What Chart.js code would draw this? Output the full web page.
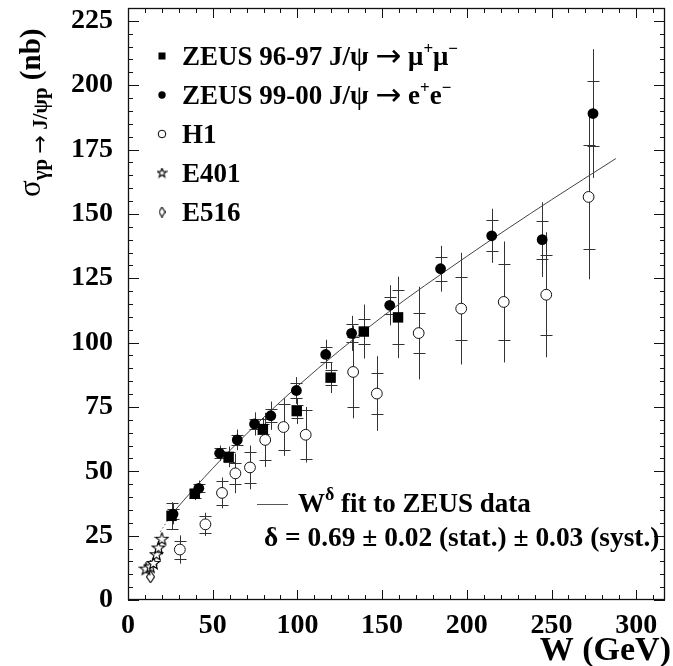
<!DOCTYPE html>
<html>
<head>
<meta charset="utf-8">
<script src="https://cdn.jsdelivr.net/npm/chart.js@4.4.1/dist/chart.umd.min.js"></script>
<style>
  html, body { margin: 0; padding: 0; background: #fff; }
  canvas { display: block; }
</style>
</head>
<body>
<canvas id="xsec" width="673" height="666"></canvas>
<script>
// ---- data (W in GeV, sigma in nb) ----
const zeus96W    = [25.7, 39.4, 59.4, 79.6, 99.6, 119.6, 139.2, 159.4];
const zeus96Sig  = [32.7, 41.3, 55.6, 66.4, 73.4, 86.4, 104.3, 109.8];
const zeus96Stat = [5.0, 1.5, 2.0, 2.0, 2.5, 3.0, 5.0, 10.5];
const zeus96Tot  = [5.3, 2.5, 4.0, 4.5, 5.0, 6.0, 10.5, 15.8];

const zeus99W    = [26.6, 41.8, 54.1, 64.5, 74.7, 84.3, 99.4, 116.7, 132.0, 154.5, 184.5, 214.7, 244.5, 274.5];
const zeus99Sig  = [33.4, 43.4, 57.0, 62.2, 68.4, 71.6, 81.4, 95.4, 103.6, 114.5, 128.7, 141.5, 140.0, 189.0];
const zeus99Stat = [2.0, 1.5, 2.0, 2.0, 2.0, 2.5, 3.0, 3.0, 3.5, 3.2, 4.7, 6.0, 7.4, 12.5];
const zeus99Tot  = [4.0, 3.0, 3.0, 4.0, 4.5, 5.5, 5.2, 5.7, 6.8, 7.8, 8.9, 10.5, 14.5, 25.0];

const h1W    = [30.6, 45.7, 55.5, 63.4, 72.0, 81.0, 91.8, 104.9, 132.9, 146.9, 171.6, 196.7, 221.8, 246.9, 271.9];
const h1Sig  = [19.6, 29.4, 41.6, 49.2, 51.5, 62.2, 67.2, 64.2, 88.6, 80.2, 103.7, 113.2, 115.8, 118.6, 156.6];
const h1Stat = [3.5, 3.2, 4.5, 4.2, 6.0, 8.0, 9.0, 9.5, 13.5, 7.9, 7.8, 12.2, 14.8, 15.5, 20.3];
const h1Tot  = [5.5, 4.5, 6.0, 7.7, 8.5, 10.5, 11.2, 10.8, 18.0, 14.5, 18.0, 21.7, 23.5, 24.3, 32.0];

const e401W   = [10.6, 13.2, 15.0, 16.8, 18.0, 20.0];
const e401Sig = [12.0, 12.8, 14.2, 17.6, 20.2, 23.6];

const e516W   = [13.3];
const e516Sig = [9.0];

// W^delta fit line, solid part and dotted extrapolation
const fitW      = [26, 40, 60, 100, 150, 200, 250, 288];
const fitSig    = [33.5, 44, 58, 83, 110, 133.5, 155.5, 171.5];
const fitExtW   = [19, 26];
const fitExtSig = [26.5, 33.5];

const xTicks = [0, 50, 100, 150, 200, 250, 300];
const yTicks = [0, 25, 50, 75, 100, 125, 150, 175, 200, 225];

const SERIF = '"Liberation Serif", "Times New Roman", serif';
const ARROW_FONT = '"DejaVu Sans", sans-serif';

function pts(xs, ys) {
    return xs.map((x, i) => ({ x: x, y: ys[i] }));
}

// open five-pointed star marker
function starImage(size, outer, inner) {
    const c = document.createElement('canvas');
    c.width = size; c.height = size;
    const g = c.getContext('2d');
    g.beginPath();
    for (let i = 0; i < 10; i++) {
        const r = i % 2 === 0 ? outer : inner;
        const a = -Math.PI / 2 + i * Math.PI / 5;
        const px = size / 2 + r * Math.cos(a);
        const py = size / 2 + r * Math.sin(a);
        if (i === 0) g.moveTo(px, py); else g.lineTo(px, py);
    }
    g.closePath();
    g.fillStyle = '#fff';
    g.fill();
    g.strokeStyle = '#000';
    g.lineWidth = 1.1;
    g.stroke();
    return c;
}

// open tall diamond marker
function diamondImage(w, h) {
    const c = document.createElement('canvas');
    c.width = w; c.height = h;
    const g = c.getContext('2d');
    g.beginPath();
    g.moveTo(w / 2, 0.5);
    g.lineTo(w - 0.5, h / 2);
    g.lineTo(w / 2, h - 0.5);
    g.lineTo(0.5, h / 2);
    g.closePath();
    g.fillStyle = '#fff';
    g.fill();
    g.strokeStyle = '#000';
    g.lineWidth = 1.1;
    g.stroke();
    return c;
}

const starPt = starImage(15, 6.5, 2.7);
const diamondPt = diamondImage(9, 13);
const starLeg = starImage(11, 4.8, 2.0);
const diamondLeg = diamondImage(7, 11);

// vertical error bars: line to the total error, small crossbars at the stat error
const errorBars = {
    id: 'errorBars',
    beforeDatasetsDraw(chart) {
        const ctx = chart.ctx;
        const xs = chart.scales.x, ys = chart.scales.y;
        const sets = [
            [zeus96W, zeus96Sig, zeus96Stat, zeus96Tot],
            [zeus99W, zeus99Sig, zeus99Stat, zeus99Tot],
            [h1W, h1Sig, h1Stat, h1Tot]
        ];
        ctx.save();
        ctx.strokeStyle = '#333';
        ctx.lineWidth = 1;
        sets.forEach(([w, s, st, tot]) => {
            w.forEach((wv, i) => {
                const px = Math.round(xs.getPixelForValue(wv)) + 0.5;
                const y1 = ys.getPixelForValue(s[i] - tot[i]);
                const y2 = ys.getPixelForValue(s[i] + tot[i]);
                ctx.beginPath();
                ctx.moveTo(px, y1);
                ctx.lineTo(px, y2);
                [s[i] - st[i], s[i] + st[i]].forEach(v => {
                    const py = Math.round(ys.getPixelForValue(v)) + 0.5;
                    ctx.moveTo(px - 6, py);
                    ctx.lineTo(px + 6, py);
                });
                ctx.stroke();
            });
        });
        ctx.restore();
    }
};

// draws a run of text pieces with their own font and vertical shift
function richText(ctx, x, y, parts) {
    parts.forEach(p => {
        ctx.font = p.font;
        ctx.fillText(p.t, x, y + (p.dy || 0));
        x += ctx.measureText(p.t).width;
    });
    return x;
}

// frame with inward ticks, legend, fit annotation and axis titles
const decorations = {
    id: 'decorations',
    afterDraw(chart) {
        const ctx = chart.ctx;
        const a = chart.chartArea;
        const xs = chart.scales.x, ys = chart.scales.y;
        ctx.save();

        // frame
        ctx.strokeStyle = '#111';
        ctx.lineWidth = 1.3;
        ctx.strokeRect(a.left + 0.5, a.top + 0.5, a.right - a.left - 1, a.bottom - a.top - 1);

        ctx.lineWidth = 1;
        ctx.beginPath();
        for (let v = 0; v <= xs.max; v += 10) {
            const px = Math.round(xs.getPixelForValue(v)) + 0.5;
            const len = v % 50 === 0 ? 10 : 5;
            ctx.moveTo(px, a.bottom); ctx.lineTo(px, a.bottom - len);
            ctx.moveTo(px, a.top); ctx.lineTo(px, a.top + len);
        }
        for (let v = 0; v <= ys.max; v += 5) {
            const py = Math.round(ys.getPixelForValue(v)) + 0.5;
            const len = v % 25 === 0 ? 11 : 5;
            ctx.moveTo(a.left, py); ctx.lineTo(a.left + len, py);
            ctx.moveTo(a.right, py); ctx.lineTo(a.right - len, py);
        }
        ctx.stroke();

        // legend
        const lx = 162, tx = 182;
        const rows = [65, 104, 143, 182, 221];
        const big = 'bold 27px ' + SERIF;
        const small = 'bold 17px ' + SERIF;
        const arrow = '31px ' + ARROW_FONT;
        ctx.fillStyle = '#000';
        ctx.textBaseline = 'alphabetic';
        ctx.textAlign = 'left';

        // markers
        let cy = rows[0] - 9;
        ctx.fillRect(lx - 3.5, cy - 3.5, 7, 7);
        cy = rows[1] - 9;
        ctx.beginPath(); ctx.arc(lx, cy, 3.7, 0, Math.PI * 2); ctx.fill();
        cy = rows[2] - 9;
        ctx.beginPath(); ctx.arc(lx, cy, 3.8, 0, Math.PI * 2);
        ctx.strokeStyle = '#000'; ctx.stroke();
        ctx.drawImage(starLeg, lx - 5.5, rows[3] - 9 - 5.5);
        ctx.drawImage(diamondLeg, lx - 3.5, rows[4] - 9 - 5.5);

        richText(ctx, tx, rows[0], [
            { t: 'ZEUS 96-97 J/\u03C8 ', font: big },
            { t: '\u2192', font: arrow, dy: 1 },
            { t: ' \u03BC', font: big },
            { t: '+', font: small, dy: -11 },
            { t: '\u03BC', font: big },
            { t: '\u2212', font: small, dy: -11 }
        ]);
        richText(ctx, tx, rows[1], [
            { t: 'ZEUS 99-00 J/\u03C8 ', font: big },
            { t: '\u2192', font: arrow, dy: 1 },
            { t: ' e', font: big },
            { t: '+', font: small, dy: -11 },
            { t: 'e', font: big },
            { t: '\u2212', font: small, dy: -11 }
        ]);
        ctx.font = big;
        ctx.fillText('H1', tx, rows[2]);
        ctx.fillText('E401', tx, rows[3]);
        ctx.fillText('E516', tx, rows[4]);

        // fit annotation
        ctx.strokeStyle = '#555';
        ctx.beginPath();
        ctx.moveTo(257, 504.5); ctx.lineTo(288, 504.5);
        ctx.stroke();
        richText(ctx, 298, 512, [
            { t: 'W', font: big },
            { t: '\u03B4', font: 'bold 18px ' + SERIF, dy: -12 },
            { t: ' fit to ZEUS data', font: big }
        ]);
        ctx.font = 'bold 27.4px ' + SERIF;
        ctx.fillText('\u03B4 = 0.69 \u00B1 0.02 (stat.) \u00B1 0.03 (syst.)', 264, 546);

        // x title
        ctx.font = 'bold 34px ' + SERIF;
        ctx.textAlign = 'right';
        ctx.fillText('W (GeV)', 671, 660);

        // y title, rotated
        ctx.translate(40, 197);
        ctx.rotate(-Math.PI / 2);
        ctx.textAlign = 'left';
        richText(ctx, 0, 0, [
            { t: '\u03C3', font: '31px ' + SERIF },
            { t: '\u03B3p ', font: 'bold 21px ' + SERIF, dy: 7 },
            { t: '\u2192', font: '22px ' + ARROW_FONT, dy: 7 },
            { t: ' J/\u03C8p', font: 'bold 21px ' + SERIF, dy: 7 },
            { t: ' (nb)', font: 'bold 29px ' + SERIF }
        ]);
        ctx.restore();
    }
};

// keep the plot frame exactly where the figure has it
function noPad(s) {
    s.paddingTop = 0; s.paddingBottom = 0;
    s.paddingLeft = 0; s.paddingRight = 0;
}

const tickFont = { family: SERIF, size: 28, weight: 'bold' };

new Chart(document.getElementById('xsec'), {
    type: 'scatter',
    data: {
        datasets: [
            {
                type: 'line', label: 'fit', data: pts(fitW, fitSig),
                borderColor: '#444', borderWidth: 1, pointRadius: 0,
                cubicInterpolationMode: 'monotone', fill: false, order: 10
            },
            {
                type: 'line', label: 'fit extrapolation', data: pts(fitExtW, fitExtSig),
                borderColor: '#555', borderWidth: 1, borderDash: [1.5, 2.5], pointRadius: 0,
                fill: false, order: 10
            },
            {
                label: 'ZEUS 96-97', data: pts(zeus96W, zeus96Sig),
                pointStyle: 'rect', pointRadius: 7.4,
                backgroundColor: '#000', borderColor: '#000', borderWidth: 0
            },
            {
                label: 'ZEUS 99-00', data: pts(zeus99W, zeus99Sig),
                pointStyle: 'circle', pointRadius: 5.4,
                backgroundColor: '#000', borderColor: '#000', borderWidth: 0
            },
            {
                label: 'H1', data: pts(h1W, h1Sig),
                pointStyle: 'circle', pointRadius: 5.4,
                backgroundColor: '#fff', borderColor: '#111', borderWidth: 1
            },
            {
                label: 'E401', data: pts(e401W, e401Sig),
                pointStyle: starPt, pointRadius: 7
            },
            {
                label: 'E516', data: pts(e516W, e516Sig),
                pointStyle: diamondPt, pointRadius: 6
            }
        ]
    },
    options: {
        responsive: false,
        animation: false,
        devicePixelRatio: 1,
        layout: { padding: { top: 5, right: 5, left: 0, bottom: 0 } },
        plugins: {
            legend: { display: false },
            tooltip: { enabled: false }
        },
        scales: {
            x: {
                type: 'linear', min: 0, max: 317,
                afterBuildTicks: s => { s.ticks = xTicks.map(v => ({ value: v })); },
                afterFit: s => { s.height = 66; noPad(s); },
                grid: { display: false, drawTicks: false },
                border: { display: false },
                ticks: { font: tickFont, color: '#000', padding: 9, maxRotation: 0 }
            },
            y: {
                type: 'linear', min: 0, max: 230,
                afterBuildTicks: s => { s.ticks = yTicks.map(v => ({ value: v })); },
                afterFit: s => { s.width = 128; noPad(s); },
                grid: { display: false, drawTicks: false },
                border: { display: false },
                ticks: { font: tickFont, color: '#000', padding: 15 }
            }
        }
    },
    plugins: [errorBars, decorations]
});
</script>
</body>
</html>
